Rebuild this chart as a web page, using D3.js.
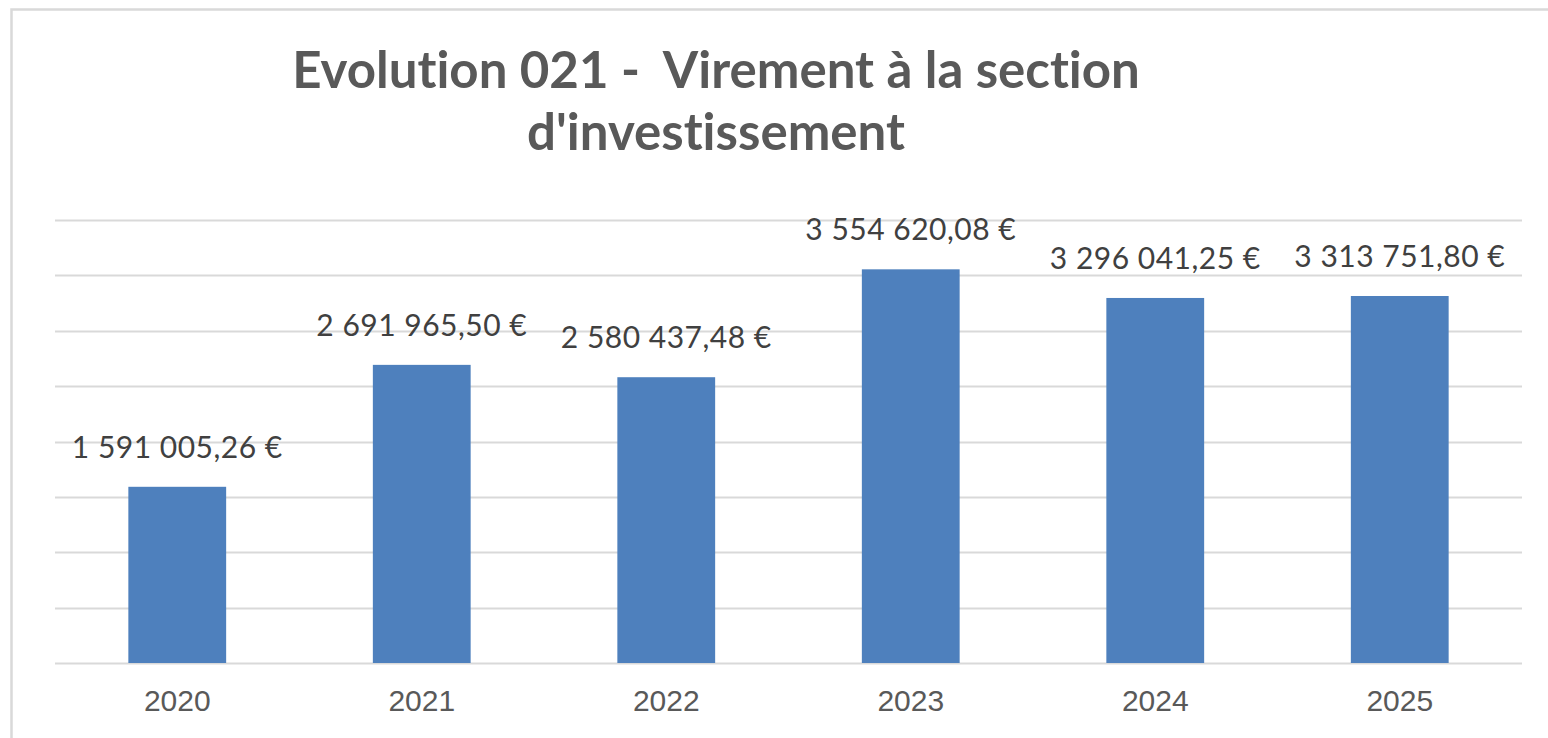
<!DOCTYPE html>
<html>
<head>
<meta charset="utf-8">
<script src="https://cdn.jsdelivr.net/npm/d3@7"></script>
<style>
  html, body { margin: 0; padding: 0; background: #fff; }
  svg { display: block; }
  text { white-space: pre; font-variant-ligatures: none; }
</style>
</head>
<body>
<script>
'use strict';

var years = ["2020", "2021", "2022", "2023", "2024", "2025"];
var amounts = [1591005.26, 2691965.50, 2580437.48, 3554620.08, 3296041.25, 3313751.80];
var gridTicks = [0, 500000, 1000000, 1500000, 2000000, 2500000, 3000000, 3500000, 4000000];
var titleLines = ["Evolution 021 -  Virement à la section", "d'investissement"];

var outerWidth = 1548;
var outerHeight = 738;
var margin = { left: 55, top: 220, right: 26, bottom: 75 };
var innerWidth = outerWidth - margin.left - margin.right;
var innerHeight = outerHeight - margin.top - margin.bottom;

var svg = d3.select("body").append("svg")
    .attr("width", outerWidth)
    .attr("height", outerHeight);

// chart frame (only top and left edges are visible in the crop)
svg.append("path")
    .attr("d", "M11.5,738 V9.5 H1548")
    .attr("fill", "none")
    .attr("stroke", "#d9d9d9")
    .attr("stroke-width", 2.5);

var xScale = d3.scaleBand()
    .domain(years)
    .range([0, innerWidth])
    .paddingInner(0.6)
    .paddingOuter(0.3);

var yScale = d3.scaleLinear()
    .domain([0, 4000000])
    .range([innerHeight, 0]);

var g = svg.append("g")
    .attr("transform", "translate(" + margin.left + "," + margin.top + ")");

// gridlines
g.selectAll(".grid")
    .data(gridTicks)
    .enter().append("line")
    .attr("class", "grid")
    .attr("x1", 0)
    .attr("x2", innerWidth)
    .attr("y1", function(d) { return Math.round(yScale(d)) + 0.5; })
    .attr("y2", function(d) { return Math.round(yScale(d)) + 0.5; })
    .attr("stroke", "#d9d9d9")
    .attr("stroke-width", 2);

// bars
g.selectAll(".bar")
    .data(amounts)
    .enter().append("rect")
    .attr("class", "bar")
    .attr("x", function(d, i) { return xScale(years[i]); })
    .attr("width", xScale.bandwidth())
    .attr("y", function(d) { return yScale(d); })
    .attr("height", function(d) { return yScale(0) - yScale(d); })
    .attr("fill", "#4e80bd");

// value labels, French format "1 591 005,26 €"
var fr = d3.formatLocale({ decimal: ",", thousands: " ", grouping: [3], currency: ["", " €"] });
var fmt = fr.format("$,.2f");

g.selectAll(".val")
    .data(amounts)
    .enter().append("text")
    .attr("class", "val")
    .attr("x", function(d, i) { return xScale(years[i]) + xScale.bandwidth() / 2; })
    .attr("y", function(d) { return yScale(d) - 29; })
    .attr("text-anchor", "middle")
    .attr("font-family", "Lato, 'Open Sans', sans-serif")
    .attr("font-size", 30)
    .attr("letter-spacing", 0.5)
    .attr("fill", "#404040")
    .text(function(d) { return fmt(d); });

// x axis labels
g.selectAll(".cat")
    .data(years)
    .enter().append("text")
    .attr("class", "cat")
    .attr("x", function(d) { return xScale(d) + xScale.bandwidth() / 2; })
    .attr("y", innerHeight + 48)
    .attr("text-anchor", "middle")
    .attr("font-family", "'Liberation Sans', Arial, sans-serif")
    .attr("font-size", 30)
    .attr("fill", "#595959")
    .text(function(d) { return d; });

// title
svg.selectAll(".title")
    .data(titleLines)
    .enter().append("text")
    .attr("class", "title")
    .attr("x", 716)
    .attr("y", function(d, i) { return 88 + i * 62; })
    .attr("text-anchor", "middle")
    .attr("font-family", "Lato, 'Open Sans', sans-serif")
    .attr("font-weight", 700)
    .attr("font-size", 51)
    .attr("fill", "#595959")
    .text(function(d) { return d; });
</script>
</body>
</html>
